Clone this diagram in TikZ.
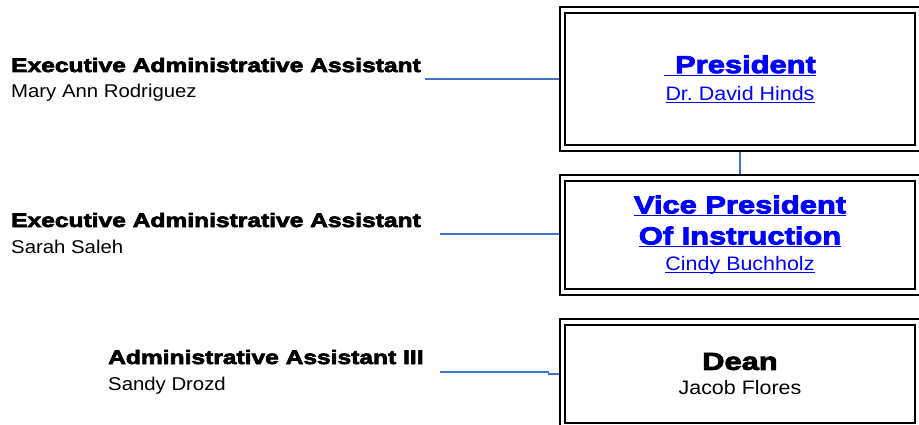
\documentclass[tikz,border=0pt]{standalone}
\usepackage{fontspec}
\setmainfont{Liberation Sans}[FakeStretch=1.1]
\newfontfamily\heavyfont{Liberation Sans Bold}[FakeStretch=1.26,FakeBold=3.5]
\usepackage{tikz}
\usetikzlibrary{positioning}
\usepackage{xcolor}

\definecolor{linkblue}{RGB}{0,0,255}
\definecolor{connblue}{RGB}{68,114,196}

\newsavebox{\linkbox}
\newcommand{\linktext}[2][1pt]{\sbox{\linkbox}{#2}\rlap{\rule[-3pt]{\wd\linkbox}{#1}}\usebox{\linkbox}}
\frenchspacing

\begin{document}
\begin{tikzpicture}[x=1pt, y=-1pt,
		orgbox/.style={draw, line width=2pt, double, double distance=3.5pt, minimum width=355pt, inner sep=0pt, outer sep=0pt, align=center, font=\fontsize{19.5}{26}\selectfont},
		aidtitle/.style={anchor=base west, inner sep=0pt, font=\heavyfont\fontsize{19.5}{24}\selectfont},
		aidname/.style={anchor=base west, inner sep=0pt, font=\fontsize{18.5}{22}\selectfont},
		link/.style={draw=connblue, line width=1.3pt, shorten >=3.75pt}]
		\useasboundingbox (0,0) rectangle (919,425);

		% Boxes
		\node[orgbox, minimum height=138pt, text=linkblue] (pres) at (740,79.2)
			{{\heavyfont\fontsize{24.5}{31}\selectfont\linktext[1.3pt]{\hspace{11pt}President}}\\[1pt]\linktext{Dr. David Hinds}};
		\node[orgbox, minimum height=114pt, text=linkblue] (vp) at (740,235)
			{{\heavyfont\fontsize{24.5}{31}\selectfont\linktext[1.3pt]{Vice President}}\\[5pt]{\heavyfont\fontsize{24.5}{31}\selectfont\linktext[1.3pt]{Of Instruction}}\\\linktext{Cindy Buchholz}};
		\node[orgbox, minimum height=104pt] (dean) at (740,374)
			{{\heavyfont\fontsize{24.5}{31}\selectfont Dean}\\[-1pt]Jacob Flores};

		% Assistants
		\node[aidtitle] (eaa1) at (11,72) {Executive Administrative Assistant};
		\node[aidname] (eaa1name) at (11,98) {Mary Ann Rodriguez};
		\node[aidtitle] (eaa2) at (11,227) {Executive Administrative Assistant};
		\node[aidname] (eaa2name) at (11,253) {Sarah Saleh};
		\node[aidtitle] (aa3) at (108,364) {Administrative Assistant III};
		\node[aidname] (aa3name) at (108,390) {Sandy Drozd};

		% Connectors
		\coordinate (c1) at (425,79);
		\coordinate (c2) at (440,234);
		\coordinate (c3) at (440,372);
		\draw[link, shorten <=3.75pt] (pres.south) -- (vp.north);
		\draw[link] (c1) -- (c1 -| pres.west);
		\draw[link] (c2) -- (c2 -| vp.west);
		\draw[link] (c3) -| ([xshift=-14pt]dean.west) -- (dean.west);
	\end{tikzpicture}
\end{document}
